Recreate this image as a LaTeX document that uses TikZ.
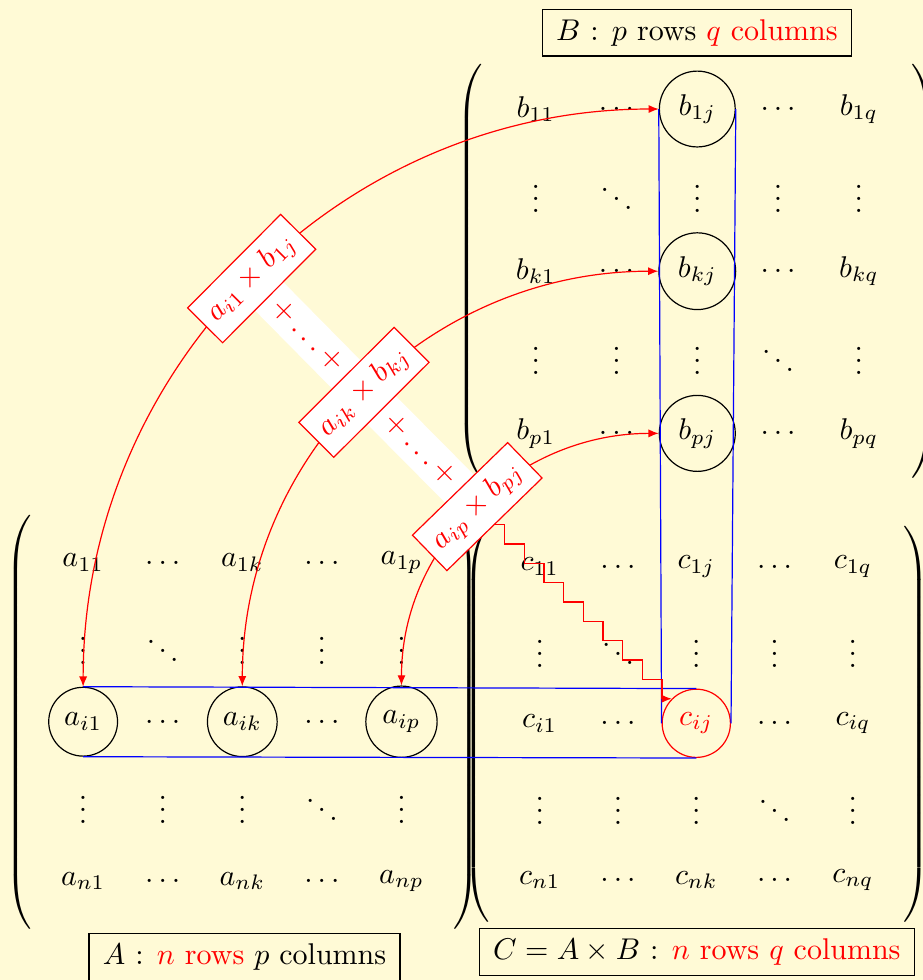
\documentclass[tikz,border=0pt]{standalone}
\usetikzlibrary{matrix,calc,arrows.meta}
\pgfdeclarelayer{back}
\pgfdeclarelayer{mid}
\pgfsetlayers{back,mid,main}
\definecolor{bgyellow}{RGB}{255,250,214}
\begin{document}
\begin{tikzpicture}[>={Latex[length=3.4pt,width=2.7pt]}, x=1pt, y=1pt,
  ge/.style={circle, anchor=center},
  sp/.style={draw, circle},
  mul/.style={draw, sloped, midway, fill=white},
  plusnode/.style={sloped, midway, fill=white, text=red},
  lab/.style={draw, inner xsep=4.6pt}]
\begin{pgfonlayer}{back}
\fill[bgyellow] (0,0) rectangle (307.67,-326.67);
\end{pgfonlayer}
\useasboundingbox (0,0) rectangle (307.67,-326.67);

\matrix (A) [matrix of math nodes, nodes={ge},
  left delimiter=(, right delimiter=),
  column sep={26.53pt,between origins}, row sep={26.53pt,between origins},
  matrix anchor=A-3-3.center] at (80.77,-240.57)
{
  a_{11} & \ldots & a_{1k} & \ldots & a_{1p} \\
  \vdots & \ddots & \vdots & \vdots & \vdots \\
  |[sp]| a_{i1} & \ldots & |[sp]| a_{ik} & \ldots & |[sp]| a_{ip} \\
  \vdots & \vdots & \vdots & \ddots & \vdots \\
  a_{n1} & \ldots & a_{nk} & \ldots & a_{np} \\
};

\matrix (B) [matrix of math nodes, nodes={ge},
  left delimiter=(, right delimiter=),
  column sep={26.93pt,between origins}, row sep={27.03pt,between origins},
  matrix anchor=B-3-3.center] at (232.43,-90.4)
{
  b_{11} & \ldots & |[sp]| b_{1j} & \ldots & b_{1q} \\
  \vdots & \ddots & \vdots & \vdots & \vdots \\
  b_{k1} & \ldots & |[sp]| b_{kj} & \ldots & b_{kq} \\
  \vdots & \vdots & \vdots & \ddots & \vdots \\
  b_{p1} & \ldots & |[sp]| b_{pj} & \ldots & b_{pq} \\
};

\matrix (C) [matrix of math nodes, nodes={ge},
  left delimiter=(, right delimiter=),
  column sep={26.1pt,between origins}, row sep={26.1pt,between origins},
  matrix anchor=C-3-3.center] at (232.1,-241.1)
{
  c_{11} & \ldots & c_{1j} & \ldots & c_{1q} \\
  \vdots & \ddots & \vdots & \vdots & \vdots \\
  c_{i1} & \ldots & |[sp,red]| c_{ij} & \ldots & c_{iq} \\
  \vdots & \vdots & \vdots & \ddots & \vdots \\
  c_{n1} & \ldots & c_{nk} & \ldots & c_{nq} \\
};

\node[lab, anchor=north] (LA) at (81.5,-311) {$A$ : \textcolor{red}{$n$ rows} $p$ columns};
\node[lab] (LB) at (232.3,-10.9) {$B$ : $p$ rows \textcolor{red}{$q$ columns}};
\node[lab, anchor=north] (LC) at (232.3,-309.3) {$C=A\times B$ : \textcolor{red}{$n$ rows $q$ columns}};

\draw[blue] (A-3-1.north) -- (C-3-3.north);
\draw[blue] (A-3-1.south) -- (C-3-3.south);
\draw[blue] (B-1-3.west) -- (C-3-3.west);
\draw[blue] (B-1-3.east) -- (C-3-3.east);

\draw[<->,red] (A-3-1) to[out=90,in=180] node[mul] (x) {$a_{i1}\times b_{1j}$} (B-1-3);
\draw[<->,red] (A-3-3) to[out=90,in=180] node[mul] (y) {$a_{ik}\times b_{kj}$} (B-3-3);
\draw[<->,red] (A-3-5) to[out=90,in=180] node[mul] (z) {$a_{ip}\times b_{pj}$} (B-5-3);

\begin{pgfonlayer}{mid}
\path (x) -- node[plusnode] {$+\ldots+$} (y);
\path (y) -- node[plusnode] {$+\ldots+$} (z);
\end{pgfonlayer}

\coordinate (zs) at (z.south);
\coordinate (ze) at (C-3-3.north west);
\foreach \i in {0,...,9} { \coordinate (zp\i) at ($(zs)!\i/9!(ze)$); }
\foreach \i in {0,...,8} { \coordinate (zh\i) at ($(zs)!{(\i+0.5)/9}!(ze)$); }
\draw[red,->] (zs) \foreach \i [count=\j] in {0,...,8} { -| (zh\i |- zp\j) } -- (ze);
\end{tikzpicture}
\end{document}
